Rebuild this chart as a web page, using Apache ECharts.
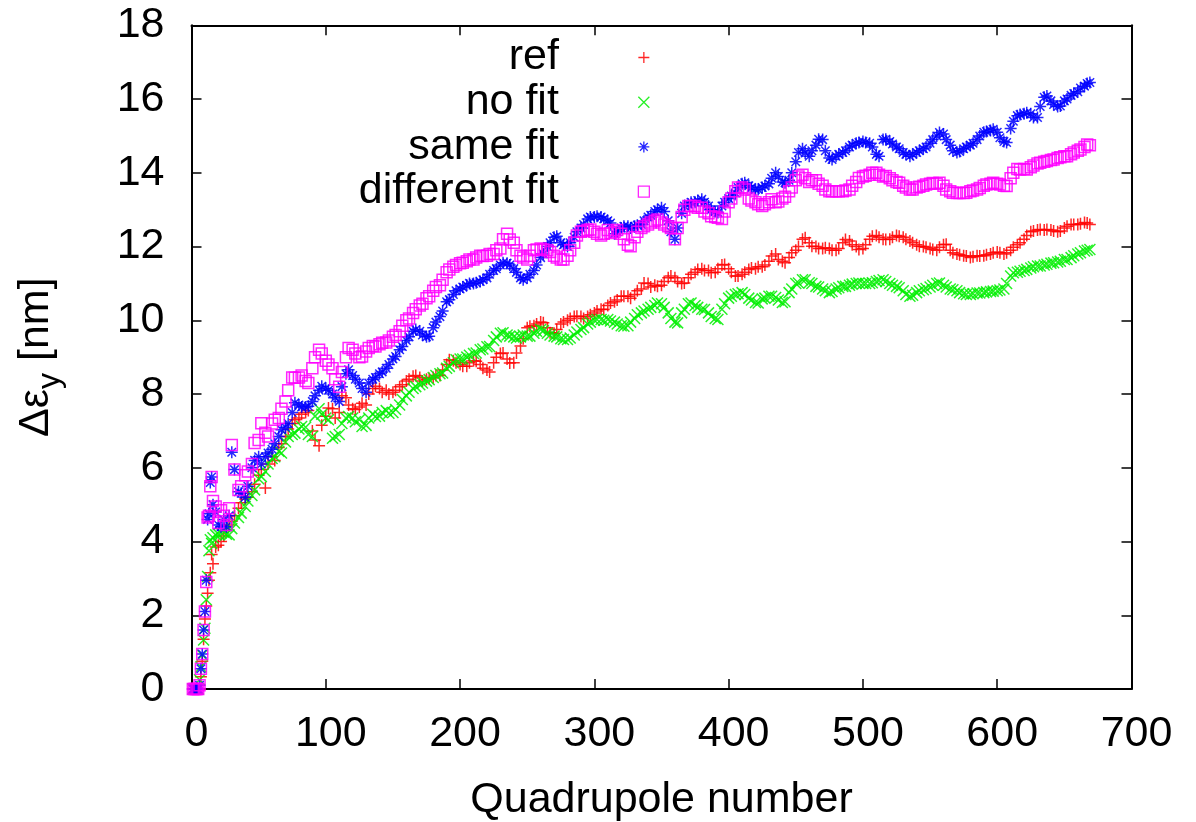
<!DOCTYPE html>
<html>
<head>
<meta charset="utf-8">
<script src="https://cdn.jsdelivr.net/npm/echarts@6/dist/echarts.min.js"></script>
<style>html,body{margin:0;padding:0;background:#fff;}#c{width:1196px;height:822px;}</style>
</head>
<body>
<div id="c"></div>
<script>
// Quadrupole numbers at which the values were read (main readings)
var quad = [1,2,3,4,5,6,7,8,9,10,11,12,13,14,15,16,18,20,22,24,26,28,30,
  35,40,45,50,55,60,65,70,75,80,
  85,90,95,100,105,110,115,120,125,130,
  135,140,145,150,155,160,165,170,175,180,
  185,190,195,200,205,210,215,220,225,230,
  235,240,245,250,255,260,265,270,275,280,
  285,290,295,300,305,310,315,320,325,330,
  335,340,345,350,355,360,365,370,375,380,
  385,390,395,400,405,410,415,420,425,430,
  435,440,445,450,455,460,465,470,475,480,
  485,490,495,500,505,510,515,520,525,530,
  535,540,545,550,555,560,565,570,575,580,
  585,590,595,600,605,610,615,620,625,630,
  635,640,645,650,655,660,665,669];

// Quadrupole numbers of the in-between readings
var quadMid = [32,37,42,47,52,57,62,67,72,77,
  82,87,92,97,102,107,112,117,122,127,
  132,137,142,147,152,157,162,167,172,177,
  182,187,192,197,202,207,212,217,222,227,
  232,237,242,247,252,257,262,267,272,277,
  282,287,292,297,302,307,312,317,322,327,
  332,337,342,347,352,357,362,367,372,377,
  382,387,392,397,402,407,412,417,422,427,
  432,437,442,447,452,457,462,467,472,477,
  482,487,492,497,502,507,512,517,522,527,
  532,537,542,547,552,557,562,567,572,577,
  582,587,592,597,602,607,612,617,622,627,
  632,637,642,647,652,657,662,667];

var refVals = [0,0,0,0,0,0,0.33,0.75,1.35,1.9,2.25,2.6,2.95,3.15,3.65,3.4,3.85,3.9,4.0,4.15,4.3,4.45,4.55,
  4.9,5.15,5.35,5.8,5.45,6.3,6.55,6.85,7.2,7.35,
  7.5,7.0,6.6,7.4,7.6,7.5,7.9,7.6,7.65,7.7,
  8.15,8.15,8.1,8.05,8.2,8.35,8.48,8.45,8.4,8.45,
  8.5,8.8,8.9,8.8,8.75,8.9,8.8,8.65,8.85,9.1,
  8.95,8.85,9.3,9.8,9.85,9.95,9.8,9.65,9.9,10.0,
  10.1,10.1,10.1,10.2,10.3,10.4,10.5,10.65,10.65,10.7,
  10.85,11.0,10.95,10.95,11.15,11.15,11.0,11.15,11.3,11.4,
  11.35,11.3,11.5,11.4,11.2,11.25,11.38,11.4,11.45,11.6,
  11.8,11.6,11.7,11.9,12.2,12.1,12.0,11.95,11.95,11.9,
  12.1,12.15,12.0,11.95,12.2,12.3,12.2,12.2,12.3,12.25,
  12.15,12.05,12.0,11.95,11.9,12.05,11.9,11.8,11.75,11.7,
  11.75,11.75,11.8,11.85,11.8,11.9,12.05,12.2,12.4,12.45,
  12.45,12.45,12.4,12.5,12.6,12.6,12.65,12.6];
var refMid = [4.7,5.05,5.2,5.55,5.95,6.1,6.2,6.65,7.05,7.3,
  7.45,7.55,6.75,7.15,7.62,7.35,7.95,7.7,7.58,7.75,
  8.0,8.21,8.05,8.0,8.1,8.25,8.4,8.5,8.35,8.42,
  8.5,8.65,8.93,8.85,8.75,8.85,8.89,8.7,8.6,9.0,
  9.11,8.84,9.11,9.5,9.84,9.9,9.93,9.66,9.75,9.95,
  10.05,10.11,10.05,10.15,10.25,10.29,10.47,10.55,10.65,10.6,
  10.8,11.01,10.9,10.92,11.05,11.2,11.05,11.01,11.25,11.38,
  11.35,11.29,11.4,11.51,11.3,11.2,11.3,11.42,11.45,11.5,
  11.74,11.65,11.56,11.83,12.0,12.24,12.01,11.95,11.97,11.9,
  11.95,12.19,12.05,11.92,12.05,12.28,12.25,12.19,12.25,12.28,
  12.2,12.1,12.01,11.98,11.92,11.98,12.06,11.83,11.78,11.74,
  11.72,11.74,11.78,11.83,11.83,11.83,11.98,12.1,12.3,12.42,
  12.46,12.46,12.42,12.42,12.55,12.6,12.62,12.64];

var noFitVals = [0,0,0,0,0,0.25,0.6,0.92,1.33,1.65,2.42,3.05,3.75,4.05,3.95,4.1,4.18,4.2,4.23,4.25,4.2,4.18,4.35,
  4.65,4.95,5.25,5.7,5.9,6.25,6.45,6.7,6.9,7.05,
  7.1,6.85,7.6,7.35,6.8,6.9,7.35,7.35,7.3,7.15,
  7.45,7.4,7.55,7.5,7.7,7.95,8.15,8.25,8.35,8.45,
  8.55,8.7,8.85,8.95,9.0,9.1,9.2,9.28,9.45,9.65,
  9.6,9.55,9.55,9.57,9.65,9.75,9.65,9.57,9.5,9.48,
  9.6,9.75,9.9,10.0,10.02,10.02,9.95,9.85,9.85,10.05,
  10.2,10.3,10.4,10.45,10.2,9.95,10.2,10.45,10.4,10.3,
  10.2,10.05,10.3,10.6,10.7,10.75,10.6,10.48,10.58,10.65,
  10.62,10.48,10.75,11.0,11.1,11.02,10.92,10.85,10.75,10.85,
  10.92,10.95,11.0,11.0,11.0,11.05,11.1,11.0,10.92,10.8,
  10.65,10.75,10.83,10.9,11.0,10.95,10.85,10.8,10.72,10.7,
  10.74,10.75,10.78,10.8,10.85,11.2,11.3,11.35,11.42,11.47,
  11.5,11.55,11.58,11.65,11.7,11.8,11.88,11.92];
var noFitMid = [4.5,4.77,5.1,5.4,5.76,6.1,6.3,6.4,6.85,6.94,
  7.12,6.9,7.4,7.45,7.3,6.85,7.2,7.39,7.25,7.12,
  7.35,7.39,7.5,7.48,7.58,7.85,8.05,8.2,8.3,8.39,
  8.5,8.57,8.75,8.93,8.95,9.05,9.11,9.22,9.29,9.55,
  9.66,9.57,9.52,9.6,9.57,9.7,9.72,9.6,9.55,9.48,
  9.52,9.68,9.8,9.95,10.02,10.0,9.98,9.9,9.84,9.95,
  10.15,10.25,10.35,10.47,10.35,10.05,9.93,10.3,10.47,10.35,
  10.29,10.1,10.02,10.45,10.65,10.72,10.7,10.55,10.47,10.6,
  10.65,10.55,10.5,10.85,11.01,11.1,11.0,10.9,10.8,10.78,
  10.88,10.92,10.98,11.01,11.0,11.02,11.08,11.05,10.95,10.88,
  10.7,10.68,10.8,10.86,10.95,11.01,10.9,10.83,10.75,10.7,
  10.72,10.74,10.77,10.79,10.82,11.0,11.29,11.33,11.38,11.45,
  11.47,11.52,11.56,11.6,11.65,11.75,11.83,11.9];

var sameFitVals = [0,0,0,0,0,0.1,0.55,0.95,1.6,2.1,2.95,4.6,4.75,5.6,5.75,5.0,4.8,4.45,4.4,4.6,4.4,4.7,6.42,
  5.35,5.2,6.0,6.3,6.3,6.5,6.85,7.1,7.5,7.7,
  7.65,7.8,8.1,8.15,8.0,7.8,8.55,8.5,8.3,8.05,
  8.4,8.55,8.7,8.95,9.2,9.45,9.7,9.7,9.55,9.8,
  10.1,10.5,10.7,10.85,10.95,11.0,11.05,11.15,11.35,11.5,
  11.55,11.4,11.15,11.15,11.35,11.7,12.0,12.25,12.1,12.0,
  12.25,12.5,12.75,12.8,12.8,12.7,12.35,12.5,12.55,12.55,
  12.6,12.8,12.95,13.05,12.7,12.2,12.9,13.15,13.2,13.28,
  13.1,12.95,13.1,13.3,13.45,13.7,13.65,13.55,13.6,13.7,
  14.0,13.75,13.8,14.3,14.65,14.45,14.75,14.9,14.4,14.45,
  14.55,14.7,14.8,14.85,14.8,14.5,14.9,14.85,14.7,14.55,
  14.45,14.55,14.65,14.8,15.0,15.05,14.75,14.55,14.65,14.75,
  14.9,15.1,15.15,15.1,14.85,15.2,15.55,15.6,15.6,15.5,
  16.05,15.95,15.8,15.95,16.1,16.2,16.35,16.45];
var sameFitMid = [5.95,5.31,5.5,6.2,6.1,6.4,6.65,7.03,7.2,7.76,
  7.65,7.67,7.95,8.21,8.1,7.9,8.2,8.66,8.4,8.15,
  8.3,8.45,8.6,8.8,9.02,9.29,9.55,9.75,9.6,9.57,
  9.95,10.25,10.56,10.8,10.9,11.0,11.02,11.1,11.25,11.4,
  11.56,11.5,11.3,11.1,11.25,11.5,11.8,12.1,12.28,12.05,
  12.1,12.4,12.6,12.8,12.82,12.75,12.64,12.4,12.55,12.5,
  12.58,12.7,12.85,13.0,12.95,12.4,12.5,13.1,13.2,13.25,
  13.2,13.0,12.92,13.2,13.37,13.6,13.73,13.6,13.55,13.64,
  13.85,13.9,13.73,14.0,14.55,14.54,14.6,14.91,14.6,14.36,
  14.5,14.6,14.75,14.82,14.82,14.7,14.45,14.91,14.78,14.65,
  14.5,14.5,14.6,14.7,14.9,15.09,14.9,14.6,14.58,14.7,
  14.8,15.0,15.12,15.18,14.95,14.82,15.4,15.58,15.63,15.5,
  15.8,16.08,15.85,15.81,16.0,16.15,16.3,16.42];

var diffFitVals = [0,0,0,0,0,0.1,0.55,0.95,1.6,2.1,2.9,4.65,4.7,5.5,5.75,5.1,4.95,4.5,4.85,4.7,4.45,4.9,6.62,
  5.4,5.8,6.1,6.75,6.95,7.2,7.35,7.8,8.45,8.45,
  8.35,8.7,9.2,8.9,8.7,8.2,9.0,9.2,9.0,9.15,
  9.3,9.35,9.4,9.55,9.7,10.0,10.2,10.4,10.6,10.8,
  10.95,11.3,11.45,11.55,11.6,11.65,11.75,11.75,11.8,11.95,
  12.35,12.1,11.75,11.65,11.9,11.95,11.9,11.75,11.65,11.75,
  12.1,12.4,12.45,12.4,12.3,12.45,12.4,12.35,12.05,12.25,
  12.5,12.6,12.7,12.65,12.55,12.2,12.8,13.1,13.1,13.05,
  12.9,12.8,12.75,13.2,13.5,13.6,13.3,13.2,13.1,13.2,
  13.2,13.3,13.5,13.8,13.95,13.75,13.8,13.65,13.5,13.5,
  13.5,13.55,13.75,13.9,13.95,14.0,13.9,13.85,13.75,13.65,
  13.55,13.6,13.65,13.7,13.7,13.65,13.5,13.45,13.45,13.5,
  13.55,13.65,13.7,13.7,13.65,13.85,14.1,14.1,14.15,14.25,
  14.3,14.35,14.4,14.45,14.5,14.6,14.7,14.75];
var diffFitMid = [5.95,5.5,5.9,6.67,7.21,6.85,7.3,7.6,8.1,8.44,
  8.5,8.3,9.0,9.1,8.8,8.4,8.6,9.25,9.1,9.02,
  9.25,9.29,9.39,9.45,9.6,9.85,10.05,10.3,10.45,10.65,
  10.9,11.1,11.38,11.5,11.56,11.65,11.7,11.74,11.8,11.9,
  12.2,12.19,11.9,11.7,11.75,11.92,11.92,11.85,11.7,11.65,
  11.9,12.3,12.42,12.46,12.35,12.35,12.37,12.45,12.2,12.01,
  12.4,12.55,12.65,12.73,12.6,12.5,12.5,13.0,13.1,13.05,
  12.95,12.82,12.78,12.95,13.3,13.6,13.55,13.25,13.15,13.15,
  13.28,13.22,13.35,13.6,13.9,13.85,13.8,13.7,13.55,13.5,
  13.5,13.52,13.65,13.86,13.92,14.0,13.95,13.91,13.8,13.73,
  13.6,13.55,13.62,13.68,13.72,13.73,13.55,13.46,13.45,13.46,
  13.52,13.59,13.68,13.73,13.68,13.64,14.0,14.09,14.09,14.2,
  14.27,14.32,14.36,14.42,14.45,14.55,14.63,14.77];

var seriesNames = ['ref', 'no fit', 'same fit', 'different fit'];
var xTicks = {min: 0, max: 700, interval: 100};
var yTicks = {min: 0, max: 18, interval: 2};

var FONT = 'Liberation Sans, Arial, Helvetica, sans-serif';
var FS = 43;
var symPlus = 'path://M0,5.5L11,5.5M5.5,0L5.5,11';
var symCross = 'path://M0,0L10,10M0,10L10,0';
var symStar = 'path://M0,5.5L11,5.5M5.5,0L5.5,11M1.6,1.6L9.4,9.4M1.6,9.4L9.4,1.6';
var symBox = 'path://M0,0L10,0L10,10L0,10Z';
var colors = ['#ff0000', '#00ee00', '#0000ff', '#ff00ff'];
var symbols = [symPlus, symCross, symStar, symBox];
var sizes = [12, 11, 12, 11];
var mainSets = [refVals, noFitVals, sameFitVals, diffFitVals];
var midSets = [refMid, noFitMid, sameFitMid, diffFitMid];

var lenOk = true;
mainSets.forEach(function (a) { if (a.length !== quad.length) lenOk = false; });
midSets.forEach(function (a) { if (a.length !== quadMid.length) lenOk = false; });

function pairs(xs, vals) { return xs.map(function (q, i) { return [q, vals[i]]; }); }

var series = seriesNames.map(function (name, k) {
  var d = pairs(quad, mainSets[k]).concat(pairs(quadMid, midSets[k]));
  d.sort(function (a, b) { return a[0] - b[0]; });
  return {
    name: name, type: 'scatter', data: d,
    symbol: symbols[k], symbolSize: sizes[k], clip: false,
    itemStyle: {color: 'rgba(0,0,0,0)', borderColor: colors[k], borderWidth: 1.5, opacity: 0.85},
    emphasis: {disabled: true}, animation: false
  };
});

var chart = echarts.init(document.getElementById('c'), null, {renderer: 'canvas'});
function axisCommon() {
  return {
    axisLine: {show: true, onZero: false, lineStyle: {color: '#000', width: 2}},
    axisTick: {show: true, inside: true, length: 10, lineStyle: {color: '#000', width: 1.5}},
    splitLine: {show: false}
  };
}
chart.setOption({
  animation: false,
  backgroundColor: '#fff',
  title: lenOk ? {show: false} : {text: 'LENGTH MISMATCH', left: 'center', top: 'middle'},
  grid: {left: 191.5, right: 64.5, top: 25.3, bottom: 133, show: false, outerBoundsMode: 'none', containLabel: false},
  legend: {
    orient: 'vertical', align: 'right', right: 546, top: 36, padding: 0,
    itemWidth: 160, itemHeight: 11, itemGap: 1.7, selectedMode: false,
    textStyle: {fontFamily: FONT, fontSize: FS, color: '#000'},
    data: seriesNames.map(function (n, k) {
      return {name: n, icon: symbols[k], itemStyle: {color: 'rgba(0,0,0,0)', borderColor: colors[k], borderWidth: 1.3}};
    })
  },
  xAxis: [
    Object.assign({type: 'value', position: 'bottom', min: xTicks.min, max: xTicks.max, interval: xTicks.interval,
      name: 'Quadrupole number', nameLocation: 'middle', nameGap: 90,
      nameTextStyle: {fontFamily: FONT, fontSize: FS, color: '#000'},
      axisLabel: {fontFamily: FONT, fontSize: FS, color: '#000', margin: 24, padding: [0, 0, 0, 10]}}, axisCommon()),
    Object.assign({type: 'value', position: 'top', min: xTicks.min, max: xTicks.max, interval: xTicks.interval,
      axisLabel: {show: false}}, axisCommon())
  ],
  yAxis: [
    Object.assign({type: 'value', position: 'left', min: yTicks.min, max: yTicks.max, interval: yTicks.interval,
      name: '{m|Δε}{s|y}{m| [nm]}', nameLocation: 'middle', nameGap: 125, nameRotate: 90,
      nameTextStyle: {fontFamily: FONT, color: '#000',
        rich: {m: {fontFamily: FONT, fontSize: FS, lineHeight: 60, color: '#000'},
               s: {fontFamily: FONT, fontSize: 32, lineHeight: 40, verticalAlign: 'bottom', color: '#000'}}},
      axisLabel: {fontFamily: FONT, fontSize: FS, color: '#000', margin: 27}}, axisCommon()),
    Object.assign({type: 'value', position: 'right', min: yTicks.min, max: yTicks.max, interval: yTicks.interval,
      axisLabel: {show: false}}, axisCommon())
  ],
  series: series
});
</script>
</body>
</html>
